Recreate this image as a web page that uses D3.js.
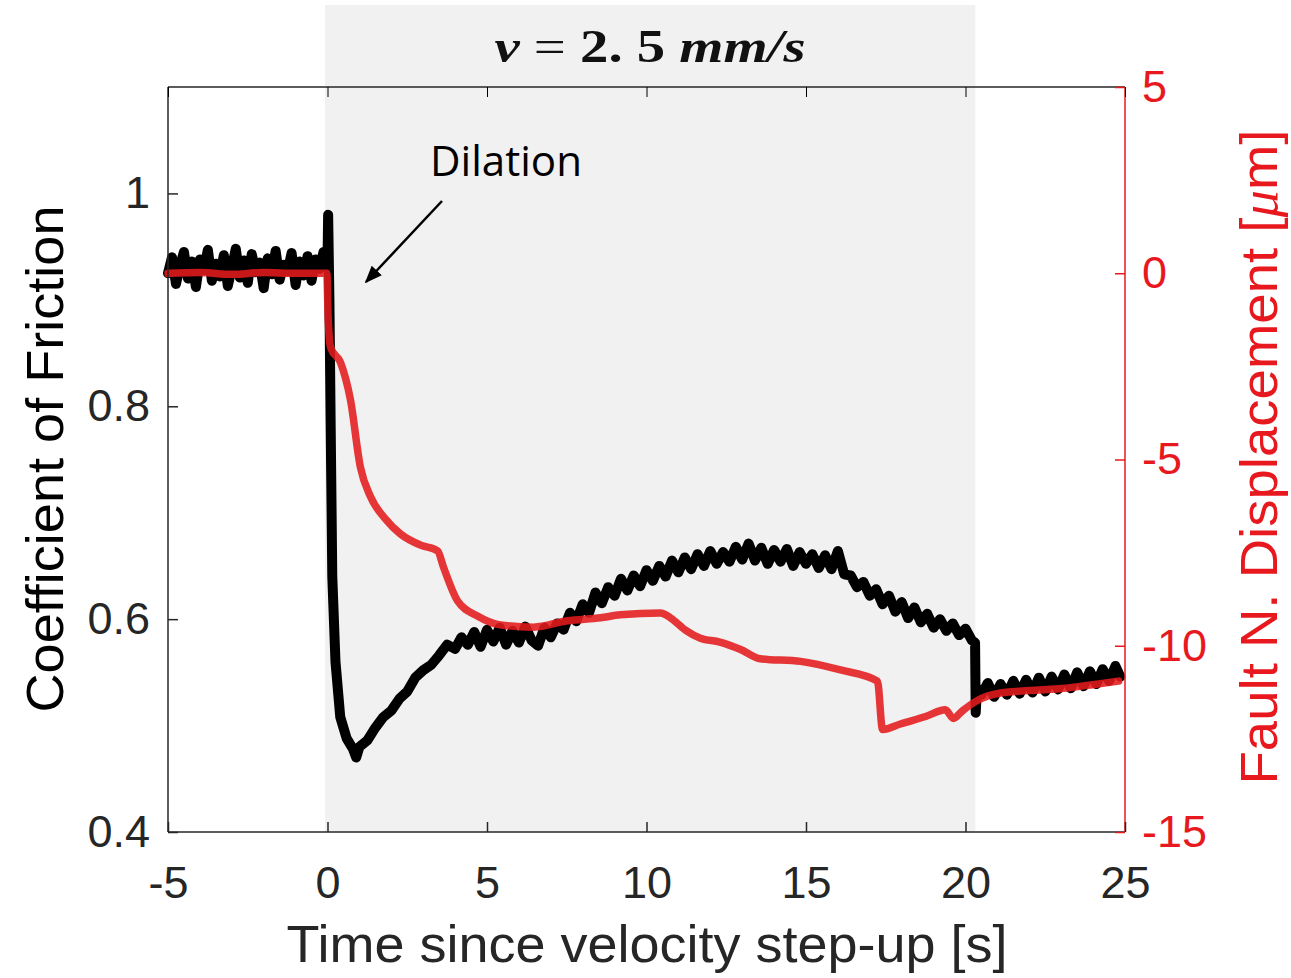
<!DOCTYPE html>
<html>
<head>
<meta charset="utf-8">
<script src="https://cdn.jsdelivr.net/npm/d3@7"></script>
<style>
  body { margin: 0; background: #fff; }
  svg { display: block; }
  .axis text { font-family: "Liberation Sans", Arial, sans-serif; font-size: 45px; }
  .axis .domain { display: none; }
</style>
</head>
<body>
<div id="chart"></div>
<script>
// friction trace (black), time in s
const frictionT = [
  -5.0,-4.875,-4.75,-4.625,-4.5,-4.375,-4.25,-4.125,-4.0,-3.875,-3.75,-3.625,-3.5,-3.375,-3.25,-3.125,-3.0,-2.875,-2.75,-2.625,
  -2.5,-2.375,-2.25,-2.125,-2.0,-1.875,-1.75,-1.625,-1.5,-1.375,-1.25,-1.125,-1.0,-0.875,-0.75,-0.625,-0.5,-0.375,-0.25,-0.125,0.0,
  0.02,0.06,0.1,0.15,0.25,0.4,0.6,0.8,0.9,1.0,1.25,1.5,1.75,2.0,2.25,2.5,2.75,3.0,3.25,3.5,3.75,
  4.0,4.2,4.4,4.6,4.8,5.0,5.2,5.4,5.6,5.8,6.0,6.2,6.4,6.6,6.8,7.0,7.2,7.4,7.6,7.8,8.0,8.2,8.4,8.6,8.8,
  9.0,9.2,9.4,9.6,9.8,10.0,10.2,10.4,10.6,10.8,11.0,11.2,11.4,11.6,11.8,12.0,12.2,12.4,12.6,12.8,
  13.0,13.2,13.4,13.6,13.8,14.0,14.2,14.4,14.6,14.8,15.0,15.2,15.4,15.6,15.8,16.0,16.2,16.4,16.6,16.8,
  17.0,17.2,17.4,17.6,17.8,18.0,18.2,18.4,18.6,18.8,19.0,19.2,19.4,19.6,19.8,20.0,20.2,20.3,
  20.32,20.36,20.5,20.7,20.9,21.1,21.3,21.5,21.7,21.9,22.1,22.3,22.5,22.7,22.9,23.1,23.3,23.5,23.7,23.9,24.1,24.3,24.5,24.7,24.85];
const frictionMu = [
  0.925,0.940,0.915,0.932,0.945,0.920,0.936,0.912,0.938,0.928,0.947,0.918,0.934,0.922,0.942,0.913,0.930,0.948,0.921,0.937,
  0.916,0.943,0.926,0.935,0.911,0.939,0.924,0.946,0.919,0.933,0.927,0.944,0.914,0.936,0.923,0.941,0.918,0.938,0.929,0.945,0.935,
  0.980,0.900,0.780,0.640,0.560,0.508,0.488,0.478,0.470,0.480,0.486,0.498,0.508,0.514,0.525,0.532,0.545,0.552,0.557,0.566,0.576,
  0.572,0.583,0.576,0.588,0.574,0.590,0.579,0.592,0.576,0.589,0.578,0.593,0.580,0.575,0.592,0.583,0.596,0.590,0.606,0.598,0.614,0.606,0.625,0.615,0.630,
  0.622,0.638,0.627,0.641,0.631,0.646,0.636,0.650,0.640,0.655,0.644,0.658,0.647,0.661,0.650,0.664,0.652,0.663,0.654,0.668,
  0.656,0.671,0.655,0.667,0.652,0.665,0.654,0.666,0.650,0.663,0.652,0.661,0.648,0.660,0.647,0.664,0.642,0.641,0.630,0.635,
  0.622,0.628,0.614,0.622,0.607,0.616,0.601,0.611,0.597,0.605,0.592,0.600,0.589,0.596,0.585,0.591,0.580,0.578,
  0.512,0.535,0.529,0.540,0.527,0.539,0.529,0.542,0.530,0.543,0.531,0.545,0.532,0.546,0.534,0.548,0.535,0.550,0.537,0.551,0.539,0.553,0.542,0.556,0.546];

// fault normal displacement (red), micrometres
const dispT = [-5.0,-4.0,-3.0,-2.0,-1.0,-0.02,0.02,0.1,0.41,0.72,1.03,1.35,1.82,2.29,2.92,3.45,3.64,4.08,4.7,5.42,6.46,7.52,
  8.56,9.18,10.44,10.75,11.22,11.69,12.3,12.95,13.57,14.83,16.08,17.24,17.4,17.96,18.75,19.37,19.62,19.9,20.31,21.1,23.0,24.8];
const dispUm = [0.0,0.02,-0.03,0.02,0.0,0.0,-1.2,-2.0,-2.4,-3.4,-5.2,-6.0,-6.6,-7.0,-7.3,-7.45,-7.9,-8.8,-9.2,-9.44,-9.5,-9.33,
  -9.25,-9.17,-9.12,-9.25,-9.58,-9.8,-9.9,-10.1,-10.35,-10.42,-10.65,-10.95,-12.25,-12.1,-11.9,-11.72,-11.95,-11.75,-11.5,-11.27,-11.15,-10.95];

const xTicks = [-5, 0, 5, 10, 15, 20, 25];
const leftTicks = [0.4, 0.6, 0.8, 1];
const rightTicks = [-15, -10, -5, 0, 5];
const stepWindow = [-0.08, 20.31]; // shaded interval, s

const W = 1291, H = 978;
const m = { left: 168, right: 1125, top: 87, bottom: 832 };
const red = "#e8191e", ink = "#262626";

const x = d3.scaleLinear().domain([-5, 25]).range([m.left, m.right]);
const yL = d3.scaleLinear().domain([0.4, 1.1]).range([m.bottom, m.top]);
const yR = d3.scaleLinear().domain([-15, 5]).range([m.bottom, m.top]);

const svg = d3.select("#chart").append("svg").attr("width", W).attr("height", H);

// shaded step-up window
svg.append("rect")
  .attr("x", x(stepWindow[0])).attr("y", 5)
  .attr("width", x(stepWindow[1]) - x(stepWindow[0])).attr("height", m.bottom - 5)
  .attr("fill", "#f1f1f1");

// lines
const fric = frictionT.map((t, i) => [t, frictionMu[i]]);
const disp = dispT.map((t, i) => [t, dispUm[i]]);

svg.append("path").datum(fric)
  .attr("d", d3.line().x(d => x(d[0])).y(d => yL(d[1])))
  .attr("fill", "none").attr("stroke", "#000").attr("stroke-width", 10)
  .attr("stroke-linejoin", "round").attr("stroke-linecap", "round");

svg.append("path").datum(disp)
  .attr("d", d3.line().curve(d3.curveMonotoneX).x(d => x(d[0])).y(d => yR(d[1])))
  .attr("fill", "none").attr("stroke", "#e41a1c").attr("stroke-opacity", 0.88).attr("stroke-width", 7.5)
  .attr("stroke-linejoin", "round").attr("stroke-linecap", "round");

// frame
svg.append("line").attr("x1", m.left).attr("x2", m.right).attr("y1", m.top).attr("y2", m.top).attr("stroke", ink).attr("stroke-width", 1.5);
svg.append("line").attr("x1", m.left).attr("x2", m.right).attr("y1", m.bottom).attr("y2", m.bottom).attr("stroke", ink).attr("stroke-width", 1.5);
svg.append("line").attr("x1", m.left).attr("x2", m.left).attr("y1", m.top).attr("y2", m.bottom).attr("stroke", ink).attr("stroke-width", 1.5);
svg.append("line").attr("x1", m.right).attr("x2", m.right).attr("y1", m.top).attr("y2", m.bottom).attr("stroke", red).attr("stroke-width", 1.5);

// axes (inward ticks)
const gx = svg.append("g").attr("class", "axis").attr("transform", `translate(0,${m.bottom})`)
  .call(d3.axisBottom(x).tickValues(xTicks).tickSize(-10).tickPadding(34).tickFormat(d => String(d)));
svg.append("g").attr("class", "axis").attr("transform", `translate(0,${m.top})`)
  .call(d3.axisTop(x).tickValues(xTicks).tickSize(-10).tickFormat(""));
const gl = svg.append("g").attr("class", "axis").attr("transform", `translate(${m.left},0)`)
  .call(d3.axisLeft(yL).tickValues(leftTicks).tickSize(-10).tickPadding(18).tickFormat(d => String(d)));
const gr = svg.append("g").attr("class", "axis").attr("transform", `translate(${m.right},0)`)
  .call(d3.axisRight(yR).tickValues(rightTicks).tickSize(-10).tickPadding(17).tickFormat(d => String(d)));

gx.selectAll("line").attr("stroke", ink).attr("stroke-width", 1.5);
gx.selectAll("text").attr("fill", ink);
gl.selectAll("line").attr("stroke", ink).attr("stroke-width", 1.5);
gl.selectAll("text").attr("fill", ink);
gr.selectAll("line").attr("stroke", red).attr("stroke-width", 1.5);
gr.selectAll("text").attr("fill", red);

// axis titles
svg.append("text")
  .attr("x", 647).attr("y", 962).attr("text-anchor", "middle")
  .attr("font-family", "Liberation Sans, Arial, sans-serif").attr("font-size", 52)
  .attr("textLength", 721).attr("lengthAdjust", "spacingAndGlyphs")
  .attr("fill", ink).text("Time since velocity step-up [s]");

svg.append("text")
  .attr("transform", "translate(63,459) rotate(-90)").attr("text-anchor", "middle")
  .attr("font-family", "Liberation Sans, Arial, sans-serif").attr("font-size", 52)
  .attr("textLength", 507).attr("lengthAdjust", "spacingAndGlyphs")
  .attr("fill", "#000").text("Coefficient of Friction");

const rt = svg.append("text")
  .attr("transform", "translate(1277,457) rotate(-90)").attr("text-anchor", "middle")
  .attr("font-family", "Liberation Sans, Arial, sans-serif").attr("font-size", 52)
  .attr("textLength", 655).attr("lengthAdjust", "spacingAndGlyphs")
  .attr("fill", red);
rt.append("tspan").text("Fault N. Displacement [");
rt.append("tspan").attr("font-family", "Liberation Serif, serif").attr("font-style", "italic").text("μ");
rt.append("tspan").text("m]");

// title
const tt = svg.append("text")
  .attr("x", 650).attr("y", 62).attr("text-anchor", "middle")
  .attr("font-family", "Liberation Serif, serif").attr("font-size", 46).attr("font-weight", "bold")
  .attr("textLength", 311).attr("lengthAdjust", "spacingAndGlyphs").attr("fill", "#111");
tt.append("tspan").attr("font-style", "italic").text("v");
tt.append("tspan").attr("font-weight", "normal").text(" = ");
tt.append("tspan").text("2. 5 ");
tt.append("tspan").attr("font-style", "italic").text("mm/s");

// annotation
svg.append("defs").append("marker")
  .attr("id", "arr").attr("viewBox", "0 0 10 10").attr("refX", 9).attr("refY", 5)
  .attr("markerWidth", 7).attr("markerHeight", 7).attr("orient", "auto-start-reverse")
  .append("path").attr("d", "M0,1 L10,5 L0,9 z").attr("fill", "#000");
svg.append("line")
  .attr("x1", 442).attr("y1", 201).attr("x2", 366).attr("y2", 282)
  .attr("stroke", "#000").attr("stroke-width", 2.5).attr("marker-end", "url(#arr)");
svg.append("text")
  .attr("x", 430).attr("y", 176)
  .attr("font-family", "Open Sans, sans-serif").attr("font-size", 42)
  .attr("textLength", 152).attr("lengthAdjust", "spacingAndGlyphs")
  .attr("fill", "#000").text("Dilation");
</script>
</body>
</html>
